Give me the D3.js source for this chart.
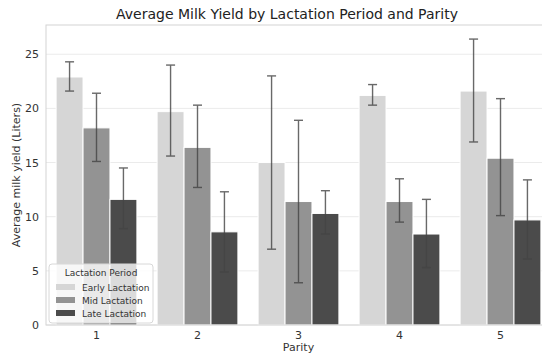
<!DOCTYPE html>
<html>
<head>
<meta charset="utf-8">
<script src="https://cdn.jsdelivr.net/npm/d3@7"></script>
<style>
  body { margin: 0; background: #fff; }
  svg { font-family: "DejaVu Sans", sans-serif; }
</style>
</head>
<body>
<svg width="542" height="358"></svg>
<script>
// chart data
const parities = ["1", "2", "3", "4", "5"];
const periods = ["Early Lactation", "Mid Lactation", "Late Lactation"];
const earlyMean = [22.9, 19.7, 15.0, 21.2, 21.6];
const earlyLow = [21.6, 15.6, 7.0, 20.3, 16.9];
const earlyHigh = [24.3, 24.0, 23.0, 22.2, 26.4];
const midMean = [18.2, 16.4, 11.4, 11.4, 15.4];
const midLow = [15.1, 12.7, 3.9, 9.5, 10.1];
const midHigh = [21.4, 20.3, 18.9, 13.5, 20.9];
const lateMean = [11.6, 8.6, 10.3, 8.4, 9.7];
const lateLow = [8.9, 4.9, 8.4, 5.3, 6.1];
const lateHigh = [14.5, 12.3, 12.4, 11.6, 13.4];
const yTicks = [0, 5, 10, 15, 20, 25];
const colors = ["#d6d6d6", "#939393", "#4b4b4b"];

const series = [
  { name: periods[0], mean: earlyMean, lo: earlyLow, hi: earlyHigh },
  { name: periods[1], mean: midMean, lo: midLow, hi: midHigh },
  { name: periods[2], mean: lateMean, lo: lateLow, hi: lateHigh },
];

const MARGIN = { left: 46, top: 25, right: -9, bottom: 33 };
const WIDTH = 542 - MARGIN.left - MARGIN.right;
const HEIGHT = 358 - MARGIN.top - MARGIN.bottom;

const svg = d3.select("svg");
const g = svg.append("g").attr("transform", `translate(${MARGIN.left},${MARGIN.top})`);

const x = d3.scaleBand().domain(parities).range([0, WIDTH]).paddingInner(0.2).paddingOuter(0.1);
const xSub = d3.scaleBand().domain(periods).range([0, x.bandwidth()]);
const y = d3.scaleLinear().domain([0, 27.7]).range([HEIGHT, 0]);
const color = d3.scaleOrdinal().domain(periods).range(colors);

// grid lines
g.append("g")
  .selectAll("line")
  .data(yTicks)
  .join("line")
  .attr("x1", 0)
  .attr("x2", WIDTH)
  .attr("y1", (d) => y(d))
  .attr("y2", (d) => y(d))
  .attr("stroke", "#ebebeb")
  .attr("stroke-width", 1);

// bars
const groups = g.append("g")
  .selectAll("g")
  .data(series)
  .join("g")
  .attr("fill", (d) => color(d.name));

groups.selectAll("rect")
  .data((s) => parities.map((p, i) => ({ p, s, i })))
  .join("rect")
  .attr("x", (d) => x(d.p) + xSub(d.s.name))
  .attr("width", xSub.bandwidth())
  .attr("y", (d) => y(d.s.mean[d.i]))
  .attr("height", (d) => y(0) - y(d.s.mean[d.i]))
  .attr("stroke", "#fff")
  .attr("stroke-width", 1);

// error bars
const err = g.append("g").attr("stroke", "#444").attr("stroke-width", 1.4).attr("opacity", 0.8);
series.forEach((s) => {
  parities.forEach((p, i) => {
    const cx = x(p) + xSub(s.name) + xSub.bandwidth() / 2;
    err.append("line").attr("x1", cx).attr("x2", cx).attr("y1", y(s.lo[i])).attr("y2", y(s.hi[i]));
    [s.lo[i], s.hi[i]].forEach((v) => {
      err.append("line").attr("x1", cx - 4.5).attr("x2", cx + 4.5).attr("y1", y(v)).attr("y2", y(v));
    });
  });
});

// frame
g.append("rect")
  .attr("width", WIDTH)
  .attr("height", HEIGHT)
  .attr("fill", "none")
  .attr("stroke", "#d4d4d4")
  .attr("stroke-width", 1);

// axes
const yAxis = g.append("g").call(d3.axisLeft(y).tickValues(yTicks).tickSize(0).tickPadding(7));
yAxis.select(".domain").remove();
yAxis.selectAll("text").attr("font-size", 11).attr("fill", "#333").attr("font-family", "DejaVu Sans");

const xAxis = g.append("g")
  .attr("transform", `translate(0,${HEIGHT})`)
  .call(d3.axisBottom(x).tickSize(0).tickPadding(6));
xAxis.select(".domain").remove();
xAxis.selectAll("text").attr("font-size", 11).attr("fill", "#333").attr("font-family", "DejaVu Sans");

// titles
svg.append("text")
  .attr("x", 287)
  .attr("y", 19)
  .attr("text-anchor", "middle")
  .attr("font-size", 14)
  .attr("fill", "#222")
  .text("Average Milk Yield by Lactation Period and Parity");

svg.append("text")
  .attr("x", MARGIN.left + WIDTH / 2)
  .attr("y", 351)
  .attr("text-anchor", "middle")
  .attr("font-size", 11)
  .attr("fill", "#333")
  .text("Parity");

svg.append("text")
  .attr("transform", `translate(20,${MARGIN.top + HEIGHT / 2}) rotate(-90)`)
  .attr("text-anchor", "middle")
  .attr("font-size", 11)
  .attr("fill", "#333")
  .text("Average milk yield (Liters)");

// legend
const legend = g.append("g").attr("transform", `translate(3,${HEIGHT - 61})`);
legend.append("rect")
  .attr("width", 104)
  .attr("height", 59)
  .attr("rx", 3)
  .attr("fill", "#fff")
  .attr("fill-opacity", 0.8)
  .attr("stroke", "#d8d8d8");
legend.append("text")
  .attr("x", 52)
  .attr("y", 12)
  .attr("text-anchor", "middle")
  .attr("font-size", 9)
  .attr("fill", "#333")
  .text("Lactation Period");
periods.forEach((name, i) => {
  legend.append("rect")
    .attr("x", 7)
    .attr("y", 20 + i * 13)
    .attr("width", 19)
    .attr("height", 6)
    .attr("fill", color(name));
  legend.append("text")
    .attr("x", 33)
    .attr("y", 26.5 + i * 13)
    .attr("font-size", 9)
    .attr("fill", "#333")
    .text(name);
});
</script>
</body>
</html>
